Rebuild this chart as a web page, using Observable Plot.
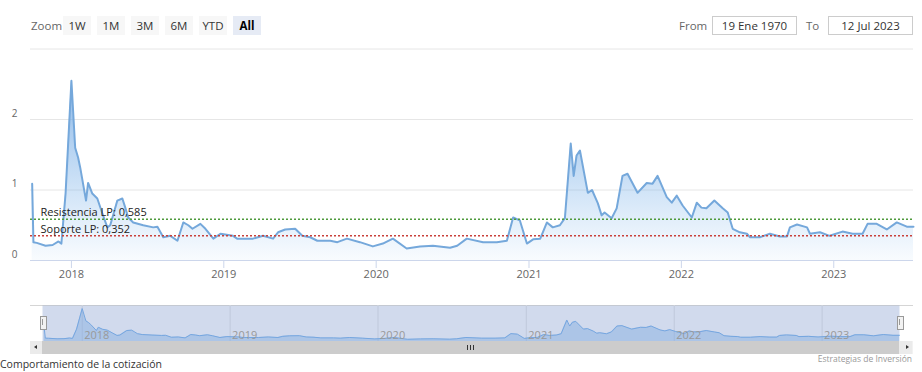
<!DOCTYPE html>
<html><head><meta charset="utf-8">
<script src="https://cdn.jsdelivr.net/npm/d3@7"></script>
<script src="https://cdn.jsdelivr.net/npm/@observablehq/plot@0.6"></script>
<style>
html,body{margin:0;padding:0;background:#fff;overflow:hidden;}
body{width:922px;height:372px;position:relative;font-family:"Open Sans",sans-serif;}
.abs{position:absolute;}
#main,#nav{position:absolute;left:0;}
#main{top:0;}
#nav{top:305px;}
.lbl{position:absolute;top:16px;height:19px;line-height:19px;font-size:11.5px;color:#666;}
#btns{position:absolute;top:16px;left:63px;display:flex;}
.btn{height:19px;line-height:19px;width:28px;margin-right:6px;background:#f7f7f7;color:#333;font-size:11.5px;text-align:center;}
.btn.sel{background:#e6ebf5;color:#000;font-weight:bold;}
.box{position:absolute;top:16px;height:17px;line-height:17px;width:83px;border:1px solid #cccccc;background:#fff;color:#333;font-size:11.5px;text-align:center;}
</style>
</head><body>
<div class="lbl" style="left:31px;">Zoom</div>
<div id="btns"></div>
<div class="lbl" style="left:679px;">From</div>
<div class="box" id="fromBox" style="left:712px;"></div>
<div class="lbl" style="left:806px;">To</div>
<div class="box" id="toBox" style="left:828px;"></div>
<div id="main"></div>
<!-- navigator chrome -->
<div class="abs" style="left:30px;top:305px;width:883px;height:1px;background:#d5d5d5;"></div>
<div id="nav"></div>
<div class="abs" style="left:30px;top:341px;width:883px;height:13px;background:#f2f2f2;"></div>
<div class="abs" style="left:42px;top:341px;width:857px;height:13px;background:#cccccc;"></div>
<div class="abs" style="left:30px;top:341px;width:12px;height:13px;background:#ebebeb;"></div>
<div class="abs" style="left:899px;top:341px;width:13px;height:13px;background:#ebebeb;"></div>
<div class="abs" style="left:34px;top:345px;width:0;height:0;border-top:2.5px solid transparent;border-bottom:2.5px solid transparent;border-right:3px solid #333;"></div>
<div class="abs" style="left:906px;top:345px;width:0;height:0;border-top:2.5px solid transparent;border-bottom:2.5px solid transparent;border-left:3px solid #333;"></div>
<div class="abs" style="left:467px;top:345px;width:1px;height:5px;background:#333;"></div>
<div class="abs" style="left:470px;top:345px;width:1px;height:5px;background:#333;"></div>
<div class="abs" style="left:473px;top:345px;width:1px;height:5px;background:#333;"></div>
<div class="abs" style="left:40px;top:316px;width:5px;height:12px;background:#f2f2f2;border:1px solid #999;"></div>
<div class="abs" style="left:42px;top:319px;width:1px;height:6px;background:#999;"></div>
<div class="abs" style="left:897px;top:316px;width:5px;height:12px;background:#f2f2f2;border:1px solid #999;"></div>
<div class="abs" style="left:899px;top:319px;width:1px;height:6px;background:#999;"></div>
<div class="abs" id="credit" style="right:10px;top:353px;font-size:8.5px;color:#999;"></div>
<div class="abs" id="caption" style="left:0px;top:357px;font-size:10.5px;line-height:14px;color:#333;white-space:nowrap;"></div>
<script>
// ---- data ----
const zoomButtons = ["1W","1M","3M","6M","YTD","All"];
const selectedButton = "All";
const fromDate = "19 Ene 1970";
const toDate = "12 Jul 2023";
const creditText = "Estrategias de Inversión";
const captionText = "Comportamiento de la cotización";

const dates = ["2017-09-29","2017-10-02","2017-10-10","2017-10-31","2017-11-17","2017-12-01","2017-12-08","2017-12-18","2017-12-25",
"2018-01-01","2018-01-10","2018-01-17","2018-01-22","2018-02-05","2018-02-10","2018-02-20","2018-03-04","2018-03-16","2018-03-28",
"2018-04-04","2018-04-21","2018-05-03","2018-05-10","2018-05-17","2018-05-29","2018-06-22","2018-07-16","2018-07-26","2018-08-09",
"2018-08-26","2018-09-12","2018-09-26","2018-10-08","2018-10-18","2018-11-06","2018-11-18","2018-12-07","2018-12-24",
"2019-01-23","2019-02-02","2019-03-12","2019-04-05","2019-04-29","2019-05-11","2019-05-28","2019-06-21","2019-07-08","2019-07-27",
"2019-08-13","2019-09-13","2019-09-30","2019-10-23","2019-11-23","2019-12-24",
"2020-01-17","2020-02-10","2020-03-14","2020-04-15","2020-05-16","2020-06-26","2020-07-13","2020-08-05","2020-09-13","2020-10-16",
"2020-11-09","2020-11-24","2020-12-10","2020-12-27",
"2021-01-11","2021-01-28","2021-02-13","2021-02-27","2021-03-16","2021-03-28","2021-04-11","2021-04-18","2021-04-25","2021-05-03",
"2021-05-22","2021-06-01","2021-06-15","2021-06-24","2021-07-01","2021-07-18","2021-07-30","2021-08-13","2021-08-25","2021-09-18",
"2021-10-10","2021-10-24","2021-11-05","2021-11-27","2021-12-09","2021-12-21",
"2022-01-04","2022-01-26","2022-02-07","2022-02-18","2022-03-02","2022-03-21","2022-04-10","2022-04-22","2022-05-04","2022-05-21",
"2022-06-07","2022-06-14","2022-07-08","2022-08-01","2022-08-25","2022-09-11","2022-09-18","2022-10-05","2022-10-29","2022-11-05",
"2022-11-29","2022-12-22",
"2023-01-22","2023-02-15","2023-03-11","2023-03-23","2023-04-14","2023-05-08","2023-06-01","2023-06-25","2023-07-11"];
const values = [1.09,0.26,0.25,0.21,0.22,0.27,0.24,0.95,1.75,
2.55,1.60,1.46,1.32,0.85,1.10,0.95,0.88,0.67,0.47,
0.50,0.85,0.88,0.75,0.61,0.54,0.50,0.47,0.48,0.33,
0.35,0.28,0.54,0.50,0.45,0.52,0.45,0.31,0.38,
0.35,0.31,0.31,0.35,0.31,0.40,0.44,0.45,0.35,0.33,
0.28,0.28,0.26,0.31,0.26,0.20,
0.24,0.31,0.17,0.20,0.21,0.18,0.21,0.31,0.26,0.26,
0.28,0.61,0.57,0.24,
0.30,0.31,0.54,0.47,0.50,0.60,1.66,1.20,1.49,1.56,
0.96,1.00,0.81,0.64,0.68,0.60,0.74,1.20,1.23,0.96,
1.10,1.09,1.20,0.90,0.82,0.92,
0.78,0.61,0.82,0.75,0.74,0.85,0.74,0.68,0.45,0.40,
0.38,0.33,0.33,0.38,0.34,0.34,0.47,0.51,0.47,0.38,
0.40,0.35,
0.41,0.38,0.38,0.52,0.52,0.44,0.54,0.48,0.48];

const levelLabels = ["Resistencia LP: 0,585","Soporte LP: 0,352"];
const levelValues = [0.585, 0.352];
const levelColors = ["#4f9a3c","#c9403a"];

const yearLabels = [2018,2019,2020,2021,2022,2023];
const yTickValues = [0,1,2];
const yGridValues = [0,1,2,3];
const axisStart = "2017-09-25";
const axisEnd = "2023-07-11";

// ---- build ----
const parse = d3.utcParse("%Y-%m-%d");
const data = dates.map((d,i)=>({date: parse(d), value: values[i]}));
const levels = levelLabels.map((l,i)=>({label:l, value:levelValues[i], color:levelColors[i]}));
const yearDates = yearLabels.map(y=>new Date(Date.UTC(y,0,1)));
const xDomain = [parse(axisStart), parse(axisEnd)];

const btns = document.getElementById("btns");
zoomButtons.forEach(b=>{const d=document.createElement("div");d.className="btn"+(b===selectedButton?" sel":"");d.textContent=b;btns.appendChild(d);});
document.getElementById("fromBox").textContent = fromDate;
document.getElementById("toBox").textContent = toDate;
document.getElementById("credit").textContent = creditText;
document.getElementById("caption").textContent = captionText;

const font = '"Open Sans", sans-serif';

const main = Plot.plot({
  width: 922, height: 290,
  marginTop: 48.5, marginBottom: 30, marginLeft: 30, marginRight: 9,
  x: {type: "utc", domain: xDomain, axis: null},
  y: {domain: [0,3], axis: null},
  style: {fontFamily: font, fontSize: "11px", background: "transparent", overflow: "visible"},
  marks: [
    Plot.gridY(yGridValues, {stroke: "#e6e6e6", strokeOpacity: 1}),
    Plot.areaY(data, {x: "date", y: "value", fill: "url(#areaGrad)"}),
    Plot.lineY(data, {x: "date", y: "value", stroke: "#75a8db", strokeWidth: 2}),
    Plot.ruleY(levels, {y: "value", stroke: "color", strokeDasharray: "2,2", strokeWidth: 1.4}),
    Plot.text(levels, {y: "value", text: "label", frameAnchor: "left", textAnchor: "start", lineAnchor: "bottom", dx: 10, dy: -3, fill: "#222", fontSize: 11}),
    Plot.ruleY([0], {stroke: "#ccd6eb"}),
    Plot.axisX(yearDates, {tickFormat: "%Y", tickSize: 8, tickPadding: 2, stroke: "#ccd6eb", fill: "#666", fontSize: 11, label: null}),
    Plot.axisY(yTickValues, {tickSize: 0, tickPadding: 13, dy: -6, fill: "#666", fontSize: 10, tickFormat: d => String(d), label: null})
  ]
});
d3.select(main).insert("defs", ":first-child").html(
  '<linearGradient id="areaGrad" x1="0" y1="0" x2="0" y2="1">' +
  '<stop offset="0" stop-color="rgb(110,165,225)" stop-opacity="0.8"/>' +
  '<stop offset="1" stop-color="rgb(124,181,236)" stop-opacity="0.05"/>' +
  '</linearGradient>');
document.getElementById("main").appendChild(main);

const nav = Plot.plot({
  width: 922, height: 36,
  marginTop: 0, marginBottom: 0, marginLeft: 42, marginRight: 23,
  x: {type: "utc", domain: xDomain, axis: null},
  y: {domain: [0, 2.79], axis: null},
  style: {fontFamily: font, fontSize: "11px", background: "transparent", overflow: "visible"},
  marks: [
    Plot.ruleX(yearDates, {stroke: "#e6e6e6"}),
    Plot.areaY(data, {x: "date", y: "value", fill: "#7cb5ec", fillOpacity: 0.4}),
    Plot.lineY(data, {x: "date", y: "value", stroke: "#7cb5ec", strokeWidth: 1}),
    Plot.frame({fill: "rgb(102,133,194)", fillOpacity: 0.3, stroke: "none"}),
    Plot.text(yearDates, {x: d=>d, text: d=>String(d.getUTCFullYear()), frameAnchor: "bottom", textAnchor: "start", lineAnchor: "bottom", dx: 2, dy: -3, fill: "#999", fontSize: 11})
  ]
});
document.getElementById("nav").appendChild(nav);
</script>
</body></html>
